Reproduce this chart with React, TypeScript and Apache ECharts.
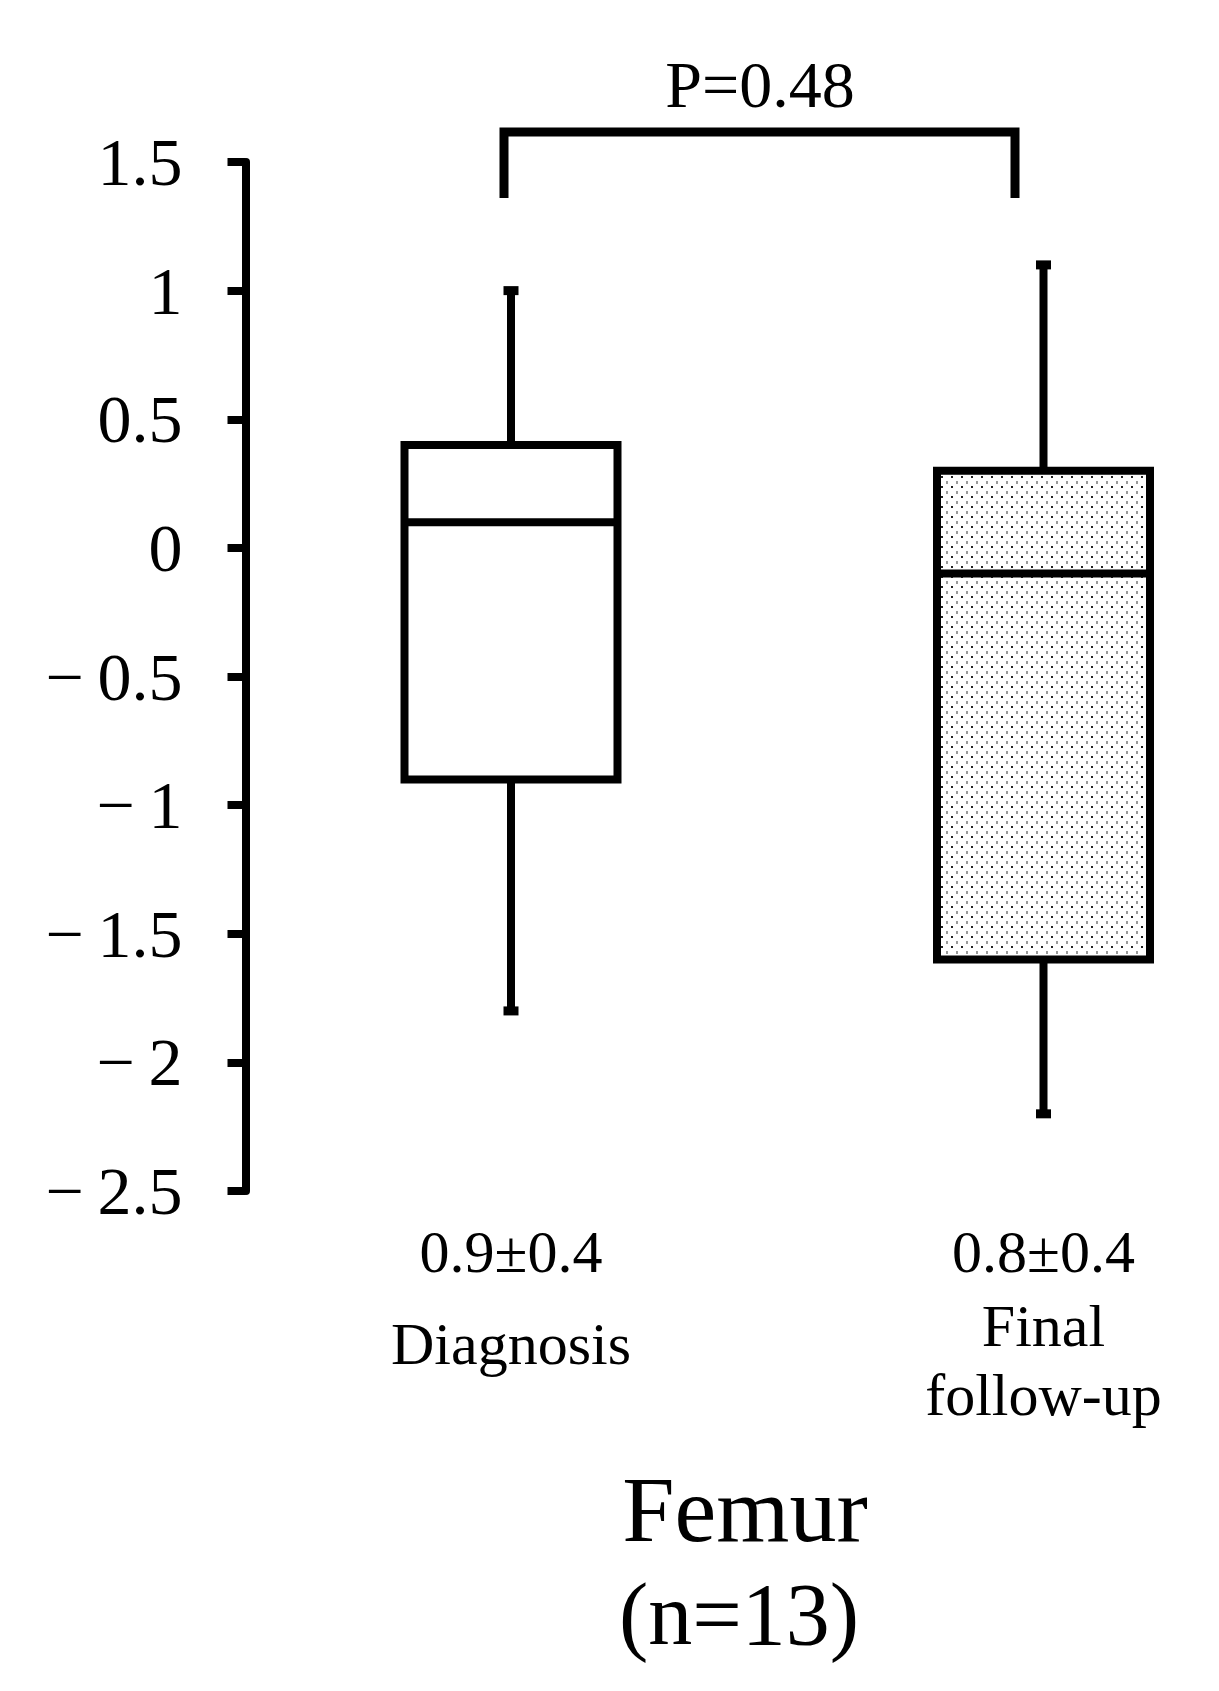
import React, { useEffect, useRef } from 'react';
import * as echarts from 'echarts';

// ---- data ----
const categories = ['Diagnosis', 'Final follow-up'];
const categoryLabelLines = [['Diagnosis'], ['Final', 'follow-up']];
const meanLabels = ['0.9±0.4', '0.8±0.4'];
const whiskerLow = [-1.8, -2.2];
const quartile1 = [-0.9, -1.6];
const medians = [0.1, -0.1];
const quartile3 = [0.4, 0.3];
const whiskerHigh = [1.0, 1.1];
const yTickValues = [1.5, 1, 0.5, 0, -0.5, -1, -1.5, -2, -2.5];
const pValueLabel = 'P=0.48';
const groupTitle = ['Femur', '(n=13)'];

const FONT = "'Liberation Serif', 'Times New Roman', serif";

function makeDotPattern(): string {
  const c = document.createElement('canvas');
  c.width = 10;
  c.height = 10;
  const ctx = c.getContext('2d')!;
  ctx.fillStyle = '#ffffff';
  ctx.fillRect(0, 0, 10, 10);
  ctx.fillStyle = '#222222';
  ctx.fillRect(1, 6, 2, 2);
  ctx.fillStyle = '#9a9a9a';
  ctx.fillRect(6, 1, 2, 3);
  return c.toDataURL();
}

export default function App() {
  const ref = useRef<HTMLDivElement>(null);

  useEffect(() => {
    document.body.style.margin = '0';
    const chart = echarts.init(ref.current!, undefined, { renderer: 'svg' });
    const patternSrc = makeDotPattern();
    const fills: any[] = [
      '#ffffff',
      { image: patternSrc, repeat: 'repeat', imageWidth: 10, imageHeight: 10 },
    ];

    const boxData = categories.map((_, i) => [
      i,
      whiskerLow[i],
      quartile1[i],
      medians[i],
      quartile3[i],
      whiskerHigh[i],
    ]);

    const option: any = {
      animation: false,
      backgroundColor: '#ffffff',
      grid: { left: 511, right: 175.5, top: 162, bottom: 500 },
      xAxis: {
        type: 'category',
        data: categories,
        boundaryGap: false,
        axisLine: { show: false },
        axisTick: { show: false },
        splitLine: { show: false },
        axisLabel: {
          interval: 0,
          margin: 31,
          color: '#000',
          fontFamily: FONT,
          formatter: (_v: string, idx: number) => {
            const lines = categoryLabelLines[idx];
            if (lines.length === 1) {
              return `{v|${meanLabels[idx]}}\n{c|${lines[0]}}`;
            }
            return `{v|${meanLabels[idx]}}\n{f|${lines[0]}}\n{g|${lines[1]}}`;
          },
          rich: {
            v: { fontSize: 60, lineHeight: 60, fontFamily: FONT, color: '#000' },
            c: { fontSize: 60, lineHeight: 123, fontFamily: FONT, color: '#000' },
            f: { fontSize: 60, lineHeight: 88, fontFamily: FONT, color: '#000' },
            g: { fontSize: 60, lineHeight: 50, fontFamily: FONT, color: '#000' },
          },
        },
      },
      yAxis: {
        type: 'value',
        min: -2.5,
        max: 1.5,
        interval: 0.5,
        offset: 265.5,
        axisLine: { show: true, lineStyle: { color: '#000', width: 8 } },
        axisTick: { show: true, length: 18, lineStyle: { color: '#000', width: 8 } },
        splitLine: { show: false },
        axisLabel: {
          margin: 63,
          color: '#000',
          fontSize: 68,
          fontFamily: FONT,
          formatter: (v: number) => {
            const t = yTickValues.find((x) => Math.abs(x - v) < 1e-9);
            const val = t === undefined ? v : t;
            return val < 0 ? '\u2212\u2009' + String(Math.abs(val)) : String(val);
          },
        },
      },
      series: [
        {
          type: 'custom',
          data: boxData,
          encode: { x: 0, y: [1, 2, 3, 4, 5] },
          renderItem: (params: any, api: any) => {
            const idx = api.value(0);
            const lo = api.coord([idx, api.value(1)]);
            const q1 = api.coord([idx, api.value(2)]);
            const med = api.coord([idx, api.value(3)]);
            const q3 = api.coord([idx, api.value(4)]);
            const hi = api.coord([idx, api.value(5)]);
            const bw = api.size([1, 0])[0] * 0.4;
            const cx = lo[0];
            const lw = 8;
            const capW = 15;
            const capH = 9;
            return {
              type: 'group',
              children: [
                {
                  type: 'line',
                  shape: { x1: cx, y1: hi[1], x2: cx, y2: q3[1] },
                  style: { stroke: '#000', lineWidth: lw },
                },
                {
                  type: 'line',
                  shape: { x1: cx, y1: q1[1], x2: cx, y2: lo[1] },
                  style: { stroke: '#000', lineWidth: lw },
                },
                {
                  type: 'rect',
                  shape: { x: cx - capW / 2, y: hi[1] - capH / 2, width: capW, height: capH },
                  style: { fill: '#000' },
                },
                {
                  type: 'rect',
                  shape: { x: cx - capW / 2, y: lo[1] - capH / 2, width: capW, height: capH },
                  style: { fill: '#000' },
                },
                {
                  type: 'rect',
                  shape: { x: cx - bw / 2, y: q3[1], width: bw, height: q1[1] - q3[1] },
                  style: { fill: fills[params.dataIndex], stroke: '#000', lineWidth: lw, lineJoin: 'miter' },
                },
                {
                  type: 'line',
                  shape: { x1: cx - bw / 2, y1: med[1], x2: cx + bw / 2, y2: med[1] },
                  style: { stroke: '#000', lineWidth: lw },
                },
              ],
            };
          },
        },
      ],
      graphic: [
        {
          type: 'polyline',
          shape: { points: [[504, 198], [504, 132], [1015, 132], [1015, 198]] },
          style: { stroke: '#000', lineWidth: 9, fill: 'none', lineJoin: 'miter', lineCap: 'butt' },
        },
        {
          type: 'text',
          x: 760,
          y: 84,
          style: {
            text: pValueLabel,
            fontSize: 66,
            fontFamily: FONT,
            fill: '#000',
            textAlign: 'center',
            textVerticalAlign: 'middle',
            align: 'center',
            verticalAlign: 'middle',
          },
        },
        {
          type: 'text',
          x: 745,
          y: 1509,
          style: {
            text: groupTitle[0],
            fontSize: 94,
            fontFamily: FONT,
            fill: '#000',
            textAlign: 'center',
            textVerticalAlign: 'middle',
            align: 'center',
            verticalAlign: 'middle',
          },
        },
        {
          type: 'text',
          x: 739,
          y: 1614,
          style: {
            text: groupTitle[1],
            fontSize: 88,
            fontFamily: FONT,
            fill: '#000',
            textAlign: 'center',
            textVerticalAlign: 'middle',
            align: 'center',
            verticalAlign: 'middle',
          },
        },
      ],
    };

    chart.setOption(option);
    return () => {
      chart.dispose();
    };
  }, []);

  return <div ref={ref} style={{ width: 1219, height: 1691, background: '#fff' }} />;
}
